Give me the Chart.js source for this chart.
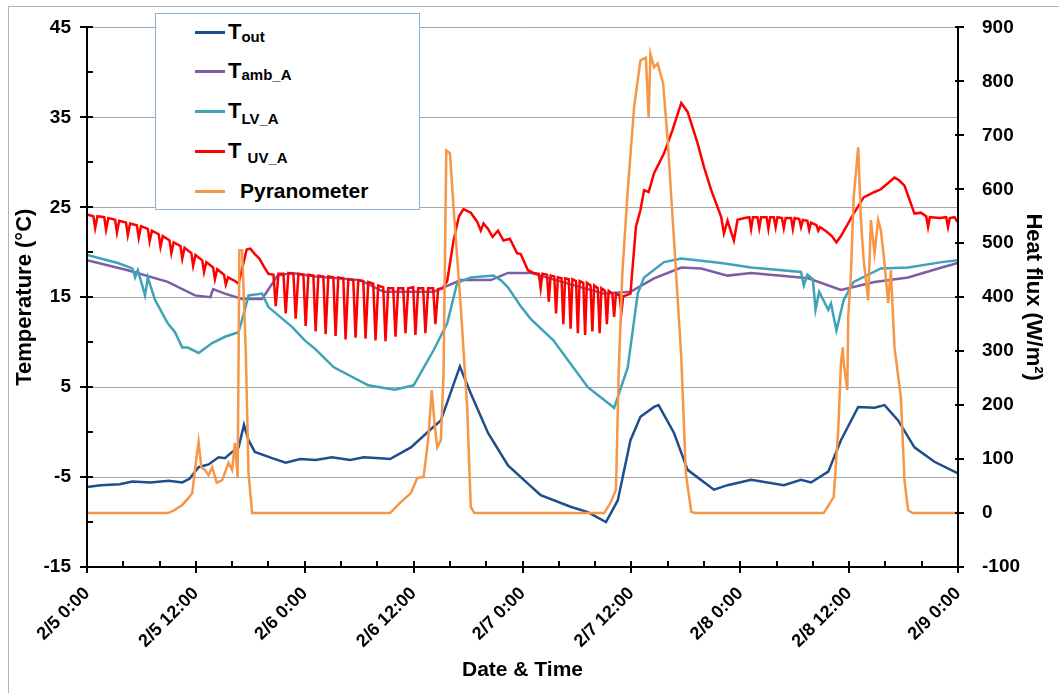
<!DOCTYPE html>
<html>
<head>
<meta charset="utf-8">
<title>Temperature and heat flux, 2/5 - 2/9</title>
<script src="https://cdn.jsdelivr.net/npm/chart.js@4.4.0/dist/chart.umd.min.js"></script>
<style>
  body { margin: 0; background: #fff; font-family: Arial, "Liberation Sans", sans-serif; }
  #wrap { position: relative; width: 1059px; height: 693px; }
  #legend { position: absolute; left: 155px; top: 13px; width: 265px; height: 197px; background: #fff;
            border: 1px solid #8fb0d9; box-sizing: border-box; }
  .swatch { position: absolute; left: 39px; width: 30px; height: 3px; }
  .lab { position: absolute; left: 72px; font-weight: bold; font-size: 22px; line-height: 22px;
         white-space: nowrap; color: #000; }
  .lab sub { font-size: 15px; line-height: 0; }
</style>
</head>
<body>
<div id="wrap">
  <canvas id="chart" width="1059" height="693"></canvas>
  <div id="legend">
    <div class="swatch" style="top:16.5px;background:#1f4e8c"></div>
    <div class="lab" style="top:7px">T<sub style="vertical-align:-3px">out</sub></div>
    <div class="swatch" style="top:55.5px;background:#7b5ea6"></div>
    <div class="lab" style="top:46px">T<sub style="vertical-align:-2px">amb_A</sub></div>
    <div class="swatch" style="top:95.5px;background:#3fa3b8"></div>
    <div class="lab" style="top:86px">T<sub style="vertical-align:-6px">LV_A</sub></div>
    <div class="swatch" style="top:135.5px;background:#ff0000"></div>
    <div class="lab" style="top:126px">T <sub style="vertical-align:-5px">UV_A</sub></div>
    <div class="swatch" style="top:175.5px;background:#f79646"></div>
    <div class="lab" style="top:166px;left:84px;font-size:21px;line-height:21px">Pyranometer</div>
  </div>
</div>
<script>
// x values are hours after 2/5 0:00
const xTickLabels = ['2/5 0:00', '2/5 12:00', '2/6 0:00', '2/6 12:00', '2/7 0:00',
                     '2/7 12:00', '2/8 0:00', '2/8 12:00', '2/9 0:00'];

// temperatures (°C), [hour, value]
const tOut = [
  [0,-6.1],[1.5,-5.9],[3.6,-5.8],[5.0,-5.5],[7.0,-5.6],[9.0,-5.4],[10.5,-5.6],[11.3,-5.2],[12.3,-3.9],
  [13.4,-3.6],[14.5,-2.8],[15.2,-2.9],[16.0,-2.2],[16.7,-1.7],[17.3,0.8],[17.8,-0.9],[18.5,-2.2],
  [20.4,-2.9],[21.9,-3.4],[23.5,-3.0],[25.2,-3.1],[27.0,-2.8],[29.0,-3.1],[30.5,-2.8],[32.3,-2.9],
  [33.4,-3.0],[35.7,-1.7],[38.2,0.6],[39.0,1.3],[41.1,7.3],[42.3,4.3],[44.2,-0.1],[46.4,-3.7],
  [48.9,-6.0],[50.0,-7.0],[53.3,-8.3],[55.2,-8.9],[57.2,-10.0],[58.5,-7.6],[59.9,-0.9],[61.0,1.7],
  [62.5,2.8],[63.0,3.0],[64.7,-0.1],[66.2,-4.2],[69.1,-6.4],[70.6,-5.9],[73.2,-5.3],[76.8,-5.9],
  [78.7,-5.3],[79.8,-5.6],[81.7,-4.4],[83.1,-0.9],[85.0,2.8],[86.8,2.7],[87.9,3.0],[89.4,1.3],
  [91.2,-1.7],[93.4,-3.3],[96,-4.6]
];
const tAmbA = [
  [0,19.1],[4.5,18.0],[8.9,16.7],[11.9,15.2],[13.6,15.0],[13.9,15.9],[15.2,15.4],[17.1,14.8],
  [19.3,14.8],[21.0,17.4],[22.6,17.7],[25.2,17.3],[30.1,16.9],[32.7,15.6],[38.2,15.6],[41.2,16.9],
  [44.5,16.9],[46.4,17.7],[48.9,17.7],[56.9,15.4],[59.9,15.6],[62.5,17.1],[65.5,18.3],[67.7,18.2],
  [70.6,17.4],[73.2,17.7],[79.5,17.1],[83.1,15.8],[86.8,16.7],[90.5,17.2],[94.2,18.3],[96,18.8]
];
const tLvA = [
  [0,19.7],[3.4,18.8],[5.0,18.2],[5.3,17.2],[5.6,18.0],[6.4,15.2],[6.7,17.2],[7.5,14.7],
  [8.9,12.1],[9.7,11.1],[10.5,9.4],[11.1,9.4],[12.3,8.8],[13.8,9.9],[15.2,10.6],[16.7,11.1],
  [17.4,13.6],[17.8,15.2],[19.3,15.4],[20.0,13.9],[22.6,11.7],[24.0,10.2],[25.2,9.2],[27.2,7.2],
  [31.0,5.2],[33.9,4.7],[36.0,5.2],[38.2,9.1],[39.7,12.1],[40.8,16.6],[42.3,17.2],[44.8,17.4],
  [45.6,16.9],[46.4,16.1],[47.8,14.0],[48.9,12.6],[51.4,10.2],[55.2,5.0],[58.1,2.7],[59.6,7.2],
  [60.7,15.4],[61.4,17.2],[63.6,18.9],[65.5,19.3],[69.9,18.8],[73.2,18.3],[78.7,17.8],[79.0,16.3],
  [79.4,17.5],[80.0,17.0],[80.3,13.6],[80.7,15.6],[81.7,13.6],[82.0,14.3],[82.6,11.3],[83.4,14.7],
  [84.5,16.7],[87.5,18.2],[90.5,18.3],[94.2,18.9],[96,19.1]
];
const tUvA = [
  [0,24.2],[0.7,24.0],[0.9,22.7],[1.15,24.0],[1.9,23.9],[2.1,22.5],[2.35,23.8],[3.1,23.6],
  [3.3,22.2],[3.55,23.5],[4.3,23.3],[4.5,21.9],[4.75,23.2],[5.5,23.0],[5.7,21.6],[5.95,22.9],
  [6.7,22.6],[6.9,21.2],[7.15,22.4],[7.9,22.0],[8.1,20.6],[8.35,21.8],[9.1,21.3],[9.3,19.9],
  [9.55,21.1],[10.3,20.7],[10.5,19.3],[10.75,20.5],[11.5,19.9],[11.7,18.5],[11.95,19.7],[12.7,19.1],
  [12.9,17.8],[13.15,18.9],[13.9,18.3],[14.1,17.0],[14.35,18.1],[15.1,17.5],[15.3,16.4],[15.55,17.2],
  [16.3,16.8],[16.7,16.5],[17.2,18.6],[17.6,20.3],[18.0,20.4],[18.5,19.8],[19.0,19.3],[19.5,18.4],
  [20.0,17.6],[20.55,17.5],[20.8,14.0],[21.1,17.6],[21.65,17.6],[21.9,13.2],[22.2,17.7],[22.75,17.6],
  [23.0,12.6],[23.3,17.6],[23.85,17.5],[24.1,11.8],[24.4,17.5],[24.95,17.4],[25.2,11.2],[25.5,17.4],
  [26.05,17.3],[26.3,10.9],[26.6,17.3],[27.15,17.2],[27.4,10.7],[27.7,17.2],[28.25,17.1],[28.5,10.3],
  [28.8,17.0],[29.35,16.9],[29.6,10.5],[29.9,16.9],[30.45,16.8],[30.7,10.4],[31.0,16.7],[31.55,16.5],
  [31.8,10.2],[32.1,16.3],[32.65,16.1],[32.9,10.1],[33.2,16.0],[33.75,16.0],[34.0,10.6],[34.3,16.0],
  [34.85,16.0],[35.1,11.0],[35.4,16.0],[35.95,16.1],[36.2,10.8],[36.5,16.0],[37.05,16.0],[37.3,11.0],
  [37.6,16.0],[38.15,16.0],[38.4,12.0],[38.7,15.9],[39.2,16.0],[39.7,16.8],[40.4,21.3],[41.0,24.0],
  [41.5,24.8],[42.3,24.4],[43.0,23.4],[43.4,22.4],[43.7,23.2],[44.2,22.6],[44.7,21.7],[45.3,22.4],
  [45.9,21.3],[46.6,21.5],[47.4,19.9],[47.8,19.8],[48.6,18.0],[49.2,17.7],[49.8,17.6],[50.0,16.0],
  [50.2,17.6],[50.7,17.5],[50.9,14.5],[51.1,17.4],[51.5,17.3],[51.7,13.2],[51.9,17.2],[52.3,17.1],
  [52.5,12.0],[52.7,17.1],[53.1,17.0],[53.3,11.5],[53.5,17.0],[53.9,16.8],[54.1,11.0],[54.3,16.8],
  [54.7,16.6],[54.9,10.8],[55.1,16.6],[55.5,16.3],[55.7,11.2],[55.9,16.3],[56.3,16.0],[56.5,11.0],
  [56.7,16.0],[57.1,15.7],[57.3,12.0],[57.5,15.7],[57.9,15.4],[58.1,12.8],[58.3,15.4],[58.7,15.2],
  [58.9,13.3],[59.1,15.1],[59.9,15.4],[60.5,22.8],[61.0,24.7],[61.4,26.9],[61.9,26.7],[62.5,28.8],
  [63.6,31.0],[64.5,33.5],[65.5,36.6],[66.2,35.6],[67.3,32.1],[68.0,29.5],[68.8,26.9],[69.9,23.9],
  [70.2,22.1],[70.6,23.5],[71.3,21.3],[71.7,23.6],[72.5,23.8],[73.0,23.9],[73.2,22.6],[73.4,23.9],
  [73.9,23.9],[74.1,22.7],[74.3,23.9],[74.9,23.9],[75.1,22.6],[75.3,23.9],[75.7,23.9],[75.9,22.8],
  [76.1,23.9],[76.6,23.8],[76.8,22.7],[77.0,23.8],[77.6,23.8],[77.8,22.6],[78.0,23.8],[78.5,23.7],
  [78.7,22.8],[78.9,23.6],[79.4,23.5],[79.6,22.5],[79.8,23.3],[80.4,23.0],[80.6,22.4],[80.8,22.8],
  [81.5,22.3],[82.1,21.8],[82.6,21.1],[83.1,21.8],[84.5,24.3],[85.6,26.1],[86.8,26.7],[87.5,27.0],
  [88.3,27.7],[89.0,28.3],[89.5,28.0],[90.1,27.4],[90.6,26.0],[91.2,24.3],[91.9,24.4],[92.5,24.0],
  [92.7,22.8],[92.9,23.9],[94.0,23.8],[94.7,23.9],[94.9,22.8],[95.1,23.8],[95.6,23.9],[96,23.3]
];

// solar heat flux (W/m²), [hour, value]
const pyranometer = [
  [0,0],[8.9,0],[9.6,5],[10.5,15],[11.2,28],[11.6,37],[11.9,80],[12.3,132],[12.6,85],[13.0,80],
  [13.4,70],[13.8,85],[14.3,56],[14.9,61],[15.6,93],[16.0,80],[16.3,130],[16.6,67],[16.8,487],
  [17.1,487],[17.5,300],[17.8,74],[18.2,0],
  [33.4,0],[34.5,19],[35.7,37],[36.4,65],[37.1,67],[37.6,135],[38.0,228],[38.3,167],[38.6,122],
  [39.0,135],[39.3,259],[39.6,672],[40.0,667],[40.4,567],[41.2,381],[41.9,196],[42.3,11],[42.7,0],
  [57.0,0],[57.7,19],[58.3,43],[58.6,259],[59.0,444],[59.6,598],[60.3,752],[61.0,839],[61.6,844],
  [61.9,733],[62.1,851],[62.5,826],[62.9,833],[63.5,796],[64.0,691],[64.7,506],[65.5,289],[66.0,74],
  [66.6,2],[67.0,0],
  [81.2,0],[82.3,30],[82.8,154],[83.1,278],[83.3,307],[83.4,278],[83.8,228],[83.9,363],[84.2,444],
  [84.5,585],[85.0,678],[85.3,543],[85.6,469],[86.1,394],[86.4,543],[86.8,481],[87.2,543],[87.5,524],
  [87.9,463],[88.3,389],[88.6,450],[89.0,307],[89.7,215],[90.1,61],[90.5,5],[91.0,0],[96,0]
];

const FONT = 'Arial, "Liberation Sans", sans-serif';
const toXY = pts => pts.map(p => ({ x: p[0], y: p[1] }));

function line(label, pts, color, axis, order) {
    return {
        label: label,
        data: toXY(pts),
        borderColor: color,
        backgroundColor: color,
        borderWidth: 2.5,
        pointRadius: 0,
        tension: 0,
        yAxisID: axis,
        order: order
    };
}

// axis lines, tick marks and the outer frame
const axisMarks = {
    id: 'axisMarks',
    afterDraw(chart) {
        const { ctx, chartArea: a, scales } = chart;
        ctx.save();
        ctx.strokeStyle = '#b4b4b4';
        ctx.lineWidth = 1;
        ctx.strokeRect(8.5, 6.5, 1200, 1200);

        ctx.strokeStyle = '#000';
        ctx.lineWidth = 2;
        ctx.beginPath();
        ctx.moveTo(a.left, a.top); ctx.lineTo(a.left, a.bottom);
        ctx.lineTo(a.right, a.bottom); ctx.lineTo(a.right, a.top);
        ctx.stroke();

        ctx.beginPath();
        const yt = scales.yTemp;
        for (let v = -15; v <= 45; v += 5) {
            const y = Math.round(yt.getPixelForValue(v));
            const major = (v + 15) % 10 === 0;
            ctx.moveTo(major ? a.left - 7 : a.left, y);
            ctx.lineTo(a.left + 6, y);
        }
        const yf = scales.yFlux;
        for (let v = -100; v <= 900; v += 100) {
            const y = Math.round(yf.getPixelForValue(v));
            ctx.moveTo(a.right - 3, y);
            ctx.lineTo(a.right + 6, y);
        }
        const xs = scales.x;
        for (let h = 0; h <= 96; h += 4) {
            const x = Math.round(xs.getPixelForValue(h));
            const major = h % 12 === 0;
            ctx.moveTo(x, a.bottom - 6);
            ctx.lineTo(x, major ? a.bottom + 6 : a.bottom);
        }
        ctx.stroke();
        ctx.restore();
    }
};

new Chart(document.getElementById('chart'), {
    type: 'line',
    data: {
        datasets: [
            line('Tout', tOut, '#1f4e8c', 'yTemp', 1),
            line('Tamb_A', tAmbA, '#7b5ea6', 'yTemp', 4),
            line('TLV_A', tLvA, '#3fa3b8', 'yTemp', 3),
            line('TUV_A', tUvA, '#ff0000', 'yTemp', 2),
            line('Pyranometer', pyranometer, '#f79646', 'yFlux', 0)
        ]
    },
    options: {
        responsive: false,
        animation: false,
        events: [],
        layout: { padding: { top: 27, left: 0, right: 0, bottom: 0 } },
        plugins: { legend: { display: false }, tooltip: { enabled: false } },
        scales: {
            x: {
                type: 'linear', min: 0, max: 96,
                grid: { display: false },
                border: { display: false },
                ticks: {
                    stepSize: 12, autoSkip: false, minRotation: 45, maxRotation: 45, padding: 8,
                    color: '#000', font: { family: FONT, size: 18, weight: 'bold' },
                    callback: v => xTickLabels[v / 12]
                },
                title: {
                    display: true, text: 'Date & Time', color: '#000',
                    font: { family: FONT, size: 21, weight: 'bold' }, padding: { top: 0, bottom: 10 }
                },
                afterFit: s => { s.height = 126; }
            },
            yTemp: {
                position: 'left', min: -15, max: 45,
                grid: { color: '#a6a6a6', lineWidth: 1, drawTicks: false },
                border: { display: false },
                ticks: { stepSize: 10, padding: 16, color: '#000', font: { family: FONT, size: 19, weight: 'bold' } },
                title: {
                    display: true, text: 'Temperature (°C)', color: '#000',
                    font: { family: FONT, size: 22, weight: 'bold' }, padding: { top: 12, bottom: 0 }
                },
                afterFit: s => { s.width = 87; }
            },
            yFlux: {
                position: 'right', min: -100, max: 900,
                grid: { display: false },
                border: { display: false },
                ticks: { stepSize: 100, padding: 16, color: '#000', font: { family: FONT, size: 19, weight: 'bold' } },
                title: {
                    display: true, text: 'Heat flux (W/m²)', color: '#000',
                    font: { family: FONT, size: 22, weight: 'bold' }, padding: { top: 13, bottom: 0 }
                },
                afterFit: s => { s.width = 101; }
            }
        }
    },
    plugins: [axisMarks]
});
</script>
</body>
</html>
